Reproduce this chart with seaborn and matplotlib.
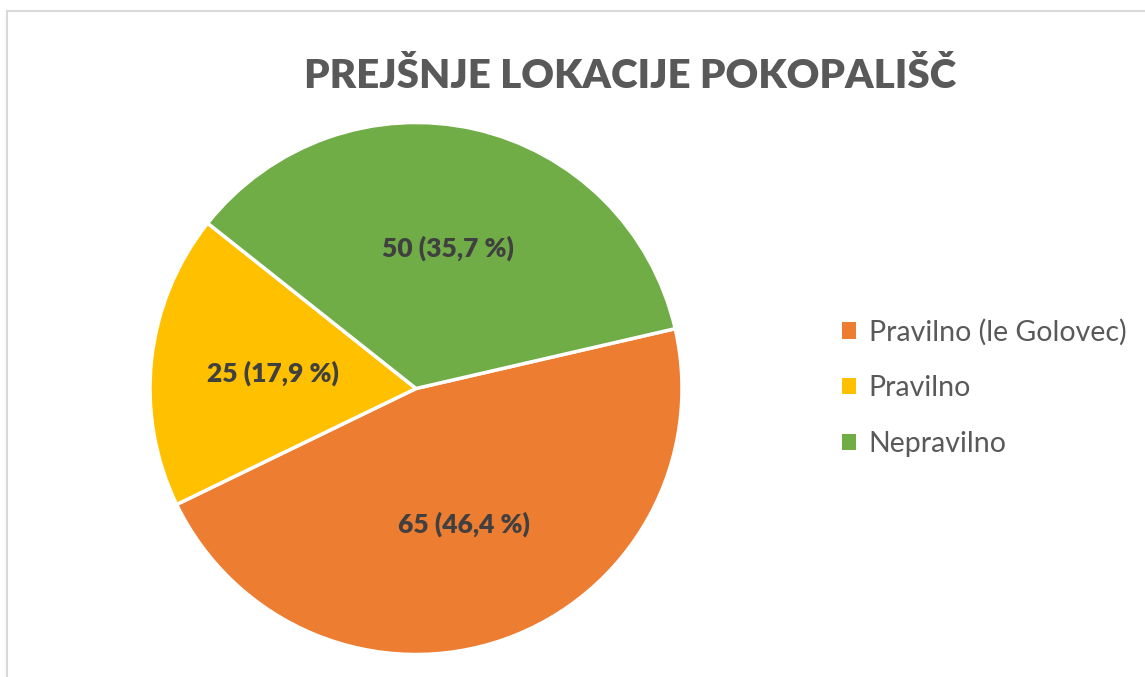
import matplotlib
matplotlib.use("Agg")
import matplotlib.pyplot as plt
import matplotlib.patches as mpatches
import seaborn as sns

# data
categories = ['Pravilno (le Golovec)', 'Pravilno', 'Nepravilno']
values = [65, 25, 50]
colors = ['#ED7D31', '#FFC000', '#70AD47']
title = 'PREJŠNJE LOKACIJE POKOPALIŠČ'

sns.set_theme(style="white")
plt.rcParams['font.family'] = ['Lato', 'DejaVu Sans']

W, H = 1145, 677
fig = plt.figure(figsize=(W / 100, H / 100), dpi=100)
fig.patch.set_facecolor('white')

# pie centred at (416, 388) px from top, radius 266 px
cx, cy, r = 416, 388.5, 266
ax = fig.add_axes([(cx - r) / W, (H - cy - r) / H, 2 * r / W, 2 * r / H])

total = sum(values)

def fmt(pct):
    v = int(round(pct * total / 100))
    return f"{v} ({pct:.1f} %)".replace('.', ',')

wedges, texts, autotexts = ax.pie(
    values, colors=sns.color_palette(colors), startangle=13, counterclock=False,
    autopct=fmt, pctdistance=0.54,
    wedgeprops=dict(edgecolor='white', linewidth=2.5),
    textprops=dict(fontsize=19, fontweight='heavy', color='#404040'))
ax.set_xlim(-1, 1)
ax.set_ylim(-1, 1)
ax.set_aspect('equal')
ax.axis('off')

fig.text(630 / W, 1 - 76 / H, title, ha='center', va='center',
         fontsize=29, fontweight='heavy', color='#595959')

handles = [mpatches.Patch(facecolor=c, edgecolor='none') for c in colors]
leg = fig.legend(handles, categories, loc='center left',
                 bbox_to_anchor=(816 / W, 1 - 388 / H), frameon=False,
                 fontsize=20.5, labelspacing=1.05, handlelength=0.5,
                 handleheight=0.5, handletextpad=0.45)
for t in leg.get_texts():
    t.set_color('#595959')

# chart area border
fig.patches.append(mpatches.Rectangle((6.5 / W, -0.1), 2, 1.1 - 10.5 / H,
                                      transform=fig.transFigure, fill=False,
                                      edgecolor='#D9D9D9', linewidth=1.5))

fig.savefig('out.png', dpi=100)
